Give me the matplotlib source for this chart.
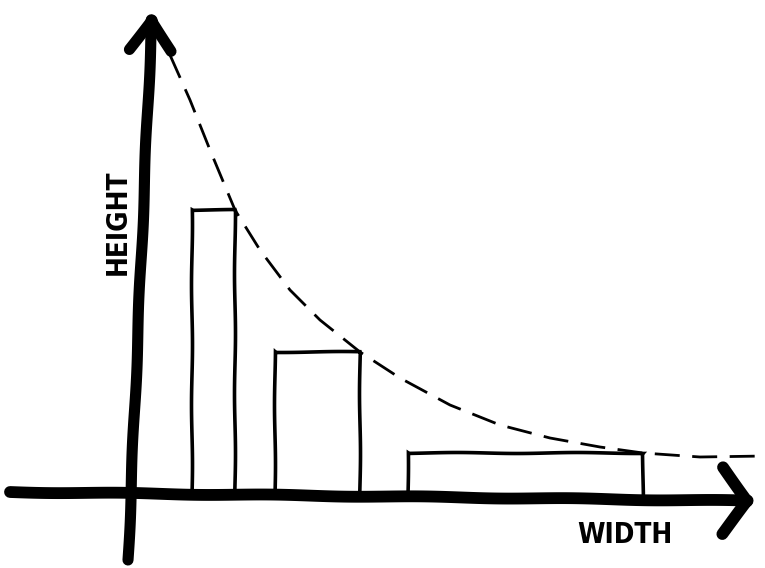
import matplotlib
matplotlib.use("Agg")
import matplotlib.pyplot as plt
import numpy as np

# bars (abstract width / height units)
bar_left = [0.47, 1.30, 2.63]
bar_width = [0.43, 0.85, 2.35]
bar_height = [2.85, 1.43, 0.42]

# dashed envelope curve
curve_x = [0.25, 0.45, 0.65, 0.90, 1.15, 1.45, 1.75, 2.15, 2.55, 3.05,
           3.55, 4.05, 4.55, 4.98, 5.55, 6.20]
curve_y = [4.40, 3.95, 3.45, 2.85, 2.45, 2.05, 1.75, 1.43, 1.17, 0.90,
           0.70, 0.57, 0.48, 0.42, 0.38, 0.39]

x_label = "WIDTH"
y_label = "HEIGHT"

fig = plt.figure(figsize=(7.65, 5.68), dpi=100)
ax = fig.add_axes([0, 0, 1, 1])
ax.set_xlim(-1.45, 6.20)
ax.set_ylim(-0.73, 4.95)
ax.axis("off")

# bars: open rectangles standing on the x axis
for left, w, h in zip(bar_left, bar_width, bar_height):
    xs = [left, left, left + w, left + w]
    ys = [0, h, h, 0]
    ln, = ax.plot(xs, ys, color="black", lw=2.6, solid_joinstyle="miter")
    ln.set_sketch_params(0.5, 120, 1)

# dashed curve
ln, = ax.plot(curve_x, curve_y, color="black", lw=2.0,
              linestyle=(0, (9, 4.5)))

# thick hand-drawn axes with big chevron arrow heads
arr_y = ax.annotate("", xy=(0.07, 4.85), xytext=(-0.17, -0.65),
                    arrowprops=dict(arrowstyle="->,head_length=2.2,head_width=1.5",
                                    color="black", lw=8, shrinkA=0, shrinkB=0))
arr_x = ax.annotate("", xy=(6.1, -0.06), xytext=(-1.35, 0.03),
                    arrowprops=dict(arrowstyle="->,head_length=1.8,head_width=2.4",
                                    color="black", lw=8.5, shrinkA=0, shrinkB=0))
arr_y.arrow_patch.set_sketch_params(0.6, 150, 1)
arr_x.arrow_patch.set_sketch_params(0.6, 150, 1)

ax.text(-0.27, 2.73, y_label, rotation=90, ha="center", va="center",
        fontsize=20, family="DejaVu Sans", fontstretch="condensed",
        fontweight="bold")
ax.text(4.80, -0.40, x_label, ha="center", va="center",
        fontsize=20, family="DejaVu Sans", fontstretch="condensed",
        fontweight="bold")

fig.savefig("out.png", dpi=100)
